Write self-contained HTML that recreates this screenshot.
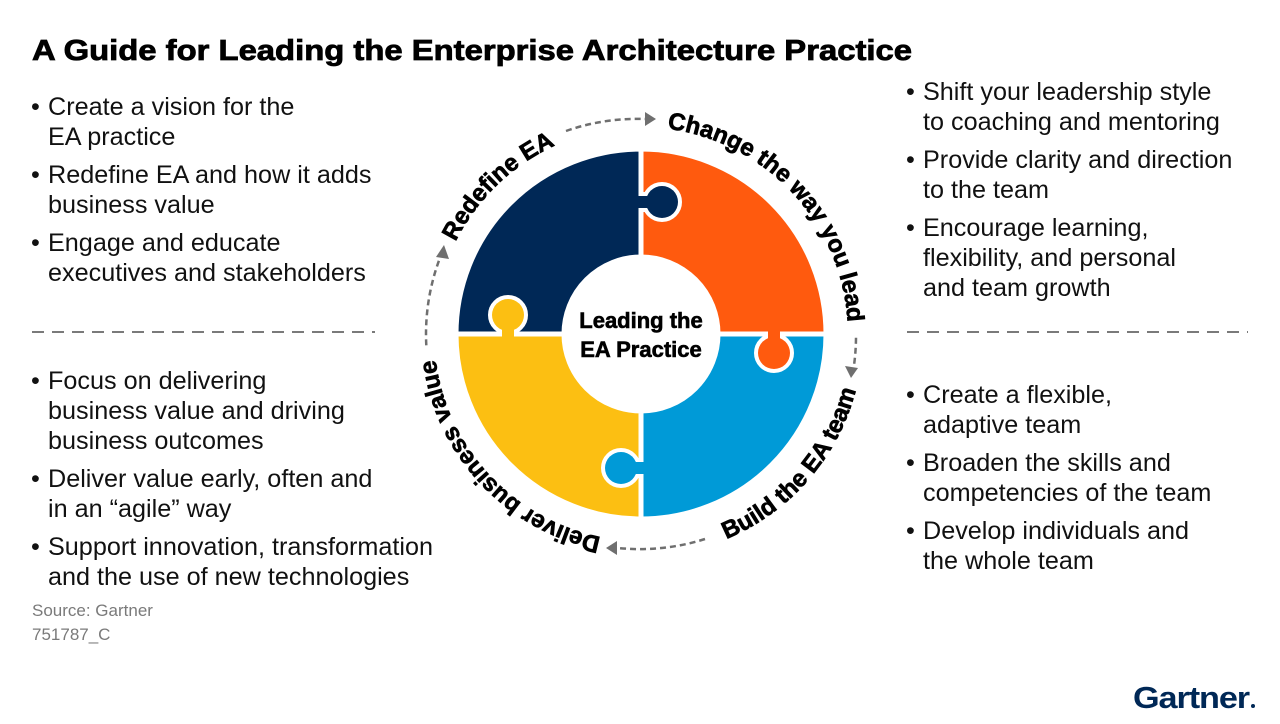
<!DOCTYPE html>
<html><head><meta charset="utf-8"><style>
html,body{margin:0;padding:0;background:#fff;}
svg{display:block;}
text{font-family:"Liberation Sans",Arial,sans-serif;}
</style></head><body>
<svg width="1280" height="724" viewBox="0 0 1280 724" xmlns="http://www.w3.org/2000/svg">
<defs>
<clipPath id="c1"><rect x="643" y="0" width="300" height="700"/></clipPath>
<clipPath id="c2"><rect x="0" y="336" width="1280" height="400"/></clipPath>
<clipPath id="c3"><rect x="0" y="0" width="639" height="724"/></clipPath>
<clipPath id="c4"><rect x="0" y="0" width="1280" height="332"/></clipPath>
<path id="p1" d="M440.1,384.1 A207 207 0 0 1 698.1,135.0"/>
<path id="p2" d="M560.1,143.5 A207 207 0 0 1 825.4,428.0"/>
<path id="p3" d="M721.9,524.5 A207 207 0 0 1 456.6,240.0"/>
<path id="p4" d="M561.4,541.3 A222 222 0 0 0 835.2,226.4"/>
</defs>

<text x="32" y="60" font-size="29" font-weight="bold" stroke="#000" stroke-width="0.8" textLength="880" lengthAdjust="spacingAndGlyphs">A Guide for Leading the Enterprise Architecture Practice</text>

<g font-size="25.2" fill="#111">
<text x="31" y="115">•</text><text x="48" y="115">Create a vision for the</text><text x="48" y="145">EA practice</text>
<text x="31" y="183">•</text><text x="48" y="183">Redefine EA and how it adds</text><text x="48" y="213">business value</text>
<text x="31" y="251">•</text><text x="48" y="251">Engage and educate</text><text x="48" y="281">executives and stakeholders</text>

<text x="31" y="389">•</text><text x="48" y="389">Focus on delivering</text><text x="48" y="419">business value and driving</text><text x="48" y="449">business outcomes</text>
<text x="31" y="487">•</text><text x="48" y="487">Deliver value early, often and</text><text x="48" y="517">in an “agile” way</text>
<text x="31" y="555">•</text><text x="48" y="555">Support innovation, transformation</text><text x="48" y="585">and the use of new technologies</text>

<text x="906" y="100">•</text><text x="923" y="100">Shift your leadership style</text><text x="923" y="130">to coaching and mentoring</text>
<text x="906" y="168">•</text><text x="923" y="168">Provide clarity and direction</text><text x="923" y="198">to the team</text>
<text x="906" y="236">•</text><text x="923" y="236">Encourage learning,</text><text x="923" y="266">flexibility, and personal</text><text x="923" y="296">and team growth</text>

<text x="906" y="403">•</text><text x="923" y="403">Create a flexible,</text><text x="923" y="433">adaptive team</text>
<text x="906" y="471">•</text><text x="923" y="471">Broaden the skills and</text><text x="923" y="501">competencies of the team</text>
<text x="906" y="539">•</text><text x="923" y="539">Develop individuals and</text><text x="923" y="569">the whole team</text>
</g>

<text x="32" y="616" font-size="17" fill="#7a7a7a">Source: Gartner</text>
<text x="32" y="640" font-size="17" fill="#7a7a7a">751787_C</text>

<line x1="32" y1="332" x2="375" y2="332" stroke="#7a7a7a" stroke-width="2" stroke-dasharray="12 8"/>
<line x1="907" y1="332" x2="1248" y2="332" stroke="#7a7a7a" stroke-width="2" stroke-dasharray="12 8"/>

<g stroke="#fff" stroke-width="5">
<path fill="#002856" d="M456,334 A185 185 0 0 1 641,149 L641,257 A77 77 0 0 0 564,334 Z"/>
<path fill="#ff5a0e" d="M641,149 A185 185 0 0 1 826,334 L718,334 A77 77 0 0 0 641,257 Z"/>
<path fill="#009ad7" d="M826,334 A185 185 0 0 1 641,519 L641,411 A77 77 0 0 0 718,334 Z"/>
<path fill="#fcbf12" d="M641,519 A185 185 0 0 1 456,334 L564,334 A77 77 0 0 0 641,411 Z"/>
</g>
<g stroke="#fff" stroke-width="8">
<g clip-path="url(#c1)" fill="#002856"><rect x="630" y="196" width="22" height="12"/><circle cx="662" cy="202" r="16"/></g>
<g clip-path="url(#c2)" fill="#ff5a0e"><rect x="768" y="322" width="12" height="22"/><circle cx="774" cy="353" r="16"/></g>
<g clip-path="url(#c3)" fill="#009ad7"><rect x="630" y="462" width="22" height="12"/><circle cx="621" cy="468" r="16"/></g>
<g clip-path="url(#c4)" fill="#fcbf12"><rect x="502" y="324" width="12" height="22"/><circle cx="508" cy="315" r="16"/></g>
</g>
<g>
<rect x="636" y="196" width="18" height="12" fill="#002856"/><circle cx="662" cy="202" r="16" fill="#002856"/>
<rect x="768" y="329" width="12" height="18" fill="#ff5a0e"/><circle cx="774" cy="353" r="16" fill="#ff5a0e"/>
<rect x="628" y="462" width="18" height="12" fill="#009ad7"/><circle cx="621" cy="468" r="16" fill="#009ad7"/>
<rect x="502" y="321" width="12" height="18" fill="#fcbf12"/><circle cx="508" cy="315" r="16" fill="#fcbf12"/>
</g>

<g font-size="22" font-weight="bold" text-anchor="middle" stroke="#000" stroke-width="0.6">
<text x="641" y="328">Leading the</text>
<text x="641" y="357">EA Practice</text>
</g>

<g font-size="24" font-weight="bold" fill="#000" stroke="#000" stroke-width="0.7">
<text><textPath href="#p1" startOffset="50%" text-anchor="middle">Redefine EA</textPath></text>
<text><textPath href="#p2" startOffset="50%" text-anchor="middle">Change the way you lead</textPath></text>
<text><textPath href="#p3" startOffset="50%" text-anchor="middle">Deliver business value</textPath></text>
<text><textPath href="#p4" startOffset="50%" text-anchor="middle">Build the EA team</textPath></text>
</g>

<g fill="none" stroke="#6f6f6f" stroke-width="2.5" stroke-dasharray="6 4">
<path d="M566,131 A215 215 0 0 1 645,119"/>
<path d="M856,337.8 A215 215 0 0 1 853.9,366"/>
<path d="M705,539 A215 215 0 0 1 616,547.8"/>
<path d="M426.3,345.3 A215 215 0 0 1 439,260.5"/>
</g>
<g fill="#6f6f6f">
<polygon points="645,112 656,119 645,126"/>
<polygon points="845,366 851,378 858,368"/>
<polygon points="617,541 606,548 617,555"/>
<polygon points="436,257 444,245 449,259"/>
</g>

<text x="1133" y="708" font-size="31" font-weight="bold" fill="#002856" letter-spacing="-1" textLength="116" lengthAdjust="spacingAndGlyphs">Gartner</text>
<circle cx="1253" cy="706" r="2" fill="#002856"/>
</svg>
</body></html>
